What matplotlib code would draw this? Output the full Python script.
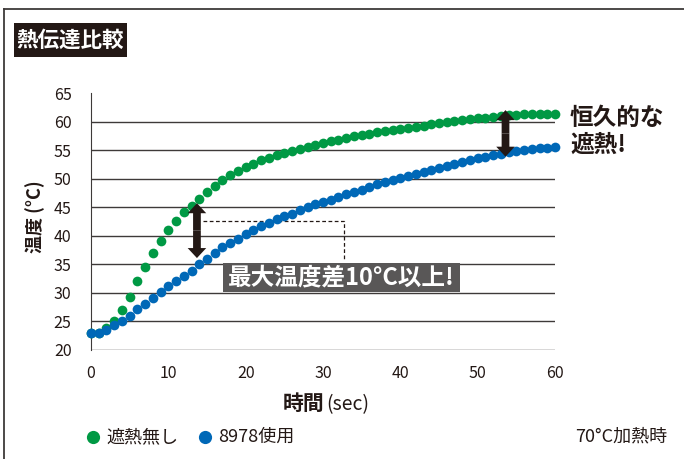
import numpy as np
import matplotlib.pyplot as plt
from matplotlib.patches import Rectangle, FancyArrow
from matplotlib.lines import Line2D

plt.rcParams['font.family'] = ['Noto Sans CJK JP', 'DejaVu Sans']

# データ (1秒ごと、0〜60秒)
tiempo = list(range(61))
sin_escudo = [22.9, 23.0, 23.8, 25.1, 27.0, 29.3, 32.1, 34.5, 36.9, 39.1,
              41.0, 42.6, 44.1, 45.2, 46.4, 47.7, 48.7, 49.7, 50.6, 51.35,
              52.05, 52.6, 53.2, 53.7, 54.1, 54.5, 54.85, 55.2, 55.6, 55.9,
              56.3, 56.6, 56.8, 57.1, 57.4, 57.7, 57.9, 58.1, 58.3, 58.5,
              58.7, 58.9, 59.1, 59.3, 59.5, 59.7, 59.9, 60.1, 60.3, 60.5,
              60.6, 60.7, 60.85, 61.0, 61.1, 61.2, 61.3, 61.3, 61.4, 61.4,
              61.4]
con_8978 = [22.9, 23.0, 23.5, 24.3, 25.0, 26.0, 27.1, 28.0, 29.1, 30.1,
            31.2, 32.1, 32.9, 33.9, 35.0, 36.0, 37.0, 38.0, 38.8, 39.5,
            40.3, 41.0, 41.7, 42.3, 42.9, 43.4, 43.9, 44.5, 45.0, 45.5,
            45.9, 46.35, 46.8, 47.3, 47.7, 48.1, 48.55, 49.0, 49.4, 49.8,
            50.2, 50.5, 50.9, 51.2, 51.6, 51.9, 52.3, 52.6, 53.0, 53.3,
            53.6, 53.85, 54.1, 54.35, 54.6, 54.8, 55.0, 55.15, 55.3, 55.4,
            55.5]
etiquetas = ['遮熱無し', '8978使用']
x_ticks = [0, 10, 20, 30, 40, 50, 60]
y_ticks = [20, 25, 30, 35, 40, 45, 50, 55, 60, 65]

VERDE = '#009944'
AZUL = '#0068b7'
OSCURO = '#231815'
GRIS = '#595757'

W, H = 684, 459


def fx(px):
    return px / W


def fy(py):
    return 1 - py / H


def flecha_doble(ax, x, y0, y1):
    """Flecha vertical de doble punta (desde el centro hacia ambos lados)"""
    mid = (y0 + y1) / 2
    for fin in (y0, y1):
        ax.add_patch(FancyArrow(x, mid, 0, fin - mid, width=1.0, head_width=2.4,
                                head_length=1.75, length_includes_head=True,
                                color=OSCURO, lw=0, zorder=6))


fig = plt.figure(figsize=(W / 100, H / 100), dpi=100)
ax = fig.add_axes([fx(91), fy(350), fx(555) - fx(91), fy(93) - fy(350)])

ax.plot(tiempo, sin_escudo, 'o', color=VERDE, ms=7, mew=0, clip_on=False, zorder=4)
ax.plot(tiempo, con_8978, 'o', color=AZUL, ms=7, mew=0, clip_on=False, zorder=5)

ax.set_xlim(0, 60)
ax.set_ylim(20, 65)
ax.set_xticks(x_ticks)
ax.set_yticks(y_ticks)
ax.tick_params(length=0, labelsize=11.5, colors='#231815')
ax.tick_params(axis='x', pad=11)
ax.tick_params(axis='y', pad=14)
ax.grid(axis='y', color='#3e3a39', lw=1.0)
ax.get_ygridlines()[-1].set_visible(False)
ax.set_axisbelow(True)
for s in ['top', 'right', 'bottom']:
    ax.spines[s].set_visible(False)
ax.spines['left'].set_color('#3e3a39')

# anotaciones
flecha_doble(ax, 13.7, 45.7, 36.1)
flecha_doble(ax, 53.6, 62.0, 53.85)
ax.plot([14.5, 32.7, 32.7], [42.6, 42.6, 35.75], ls=(0, (3, 2)), lw=0.9,
        color=OSCURO, zorder=3)
ax.add_patch(Rectangle((17.07, 30.16), 30.6, 5.07, color=GRIS, lw=0, zorder=3))
ax.text(32.4, 32.75, '最大温度差10°C以上!', color='white', fontsize=17,
        fontweight='bold', ha='center', va='center', zorder=7)

fig.text(fx(570), fy(131), '恒久的な\n遮熱!', fontsize=17, fontweight='bold',
         color=OSCURO, ha='left', va='center', linespacing=1.15)

# marco y título
fig.add_artist(Line2D([fx(4), fx(4)], [0, fy(9)], color='#3e3a39', lw=1.3))
fig.add_artist(Line2D([fx(4), 1], [fy(9), fy(9)], color='#3e3a39', lw=1.3))
fig.add_artist(Rectangle((fx(14), fy(57)), fx(113), fy(23) - fy(57), color=OSCURO,
                         lw=0, transform=fig.transFigure))
fig.text(fx(70.5), fy(40), '熱伝達比較', color='white', fontsize=15.5,
         fontweight='bold', ha='center', va='center')

# etiquetas de ejes
fig.text(fx(35), fy(217), '温度 (°C)', rotation=90, fontsize=13,
         fontweight='bold', color=OSCURO, ha='center', va='center')
fig.text(fx(324), fy(410), '時間', fontsize=15, fontweight='bold',
         color=OSCURO, ha='right', va='baseline')
fig.text(fx(326), fy(410), '(sec)', fontsize=14, color=OSCURO,
         ha='left', va='baseline')

# leyenda
for px, color, txt in [(93, VERDE, etiquetas[0]), (205, AZUL, etiquetas[1])]:
    fig.add_artist(Line2D([fx(px)], [fy(437)], marker='o', ms=9.5, mew=0,
                          color=color, ls='none'))
    fig.text(fx(px + 13), fy(437), txt, fontsize=13, color=OSCURO,
             ha='left', va='center')
fig.text(fx(667), fy(437), '70°C加熱時', fontsize=13, color=OSCURO,
         ha='right', va='center')

fig.savefig('out.png', dpi=100)
